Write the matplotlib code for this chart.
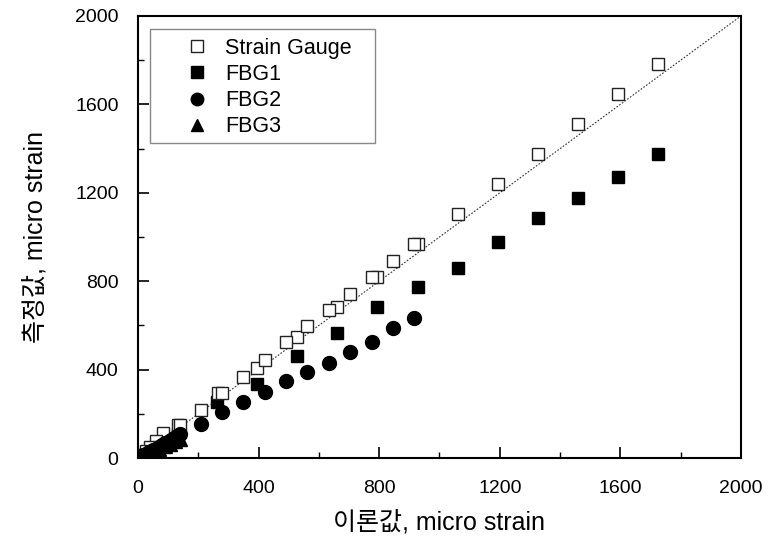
import numpy as np
import matplotlib
matplotlib.use("Agg")
import matplotlib.pyplot as plt
from matplotlib.patches import Rectangle
from matplotlib.ticker import MultipleLocator

plt.rcParams['font.family'] = ['Liberation Sans', 'Noto Sans CJK KR', 'DejaVu Sans']

# Strain gauge (two load series)
sg_x = [1725, 1592, 1459, 1327, 1194, 1061, 929, 793, 660, 527, 395, 265, 133,
        915, 846, 776, 703, 633, 560, 491, 421, 349, 279, 208, 139, 83, 60, 40, 25, 12, 5]
sg_y = [1782, 1646, 1510, 1374, 1240, 1102, 970, 821, 685, 549, 408, 295, 150,
        970, 893, 818, 744, 671, 599, 526, 444, 367, 295, 218, 150, 113, 75, 50, 32, 15, 6]

fbg1_x = [1725, 1592, 1459, 1327, 1194, 1061, 929, 793, 660, 527, 395, 262, 133, 100, 70, 45, 25, 10]
fbg1_y = [1374, 1270, 1175, 1084, 978, 862, 776, 682, 567, 463, 336, 255, 110, 80, 58, 38, 20, 8]

fbg2_x = [915, 846, 776, 703, 633, 560, 491, 421, 349, 279, 208, 139,
          128, 118, 108, 98, 88, 78, 68, 58, 48, 38, 28, 18, 8]
fbg2_y = [635, 590, 526, 481, 431, 390, 349, 299, 254, 209, 156, 109,
          98, 90, 82, 74, 66, 58, 50, 43, 35, 28, 20, 13, 6]

fbg3_x = [140, 122, 105, 88, 70, 52, 35, 18, 5]
fbg3_y = [88, 76, 65, 54, 43, 32, 21, 11, 3]

fig = plt.figure(figsize=(7.69, 5.44), dpi=100)
ax = fig.add_axes([0.1795, 0.158, 0.784, 0.8126])

ax.plot([0, 2000], [0, 2000], color='#333333', linestyle=(0, (1.5, 1.5)), linewidth=0.8, zorder=1)

ax.plot(sg_x, sg_y, 's', markersize=9, markerfacecolor='white', markeredgecolor='#222222',
        markeredgewidth=1.0, linestyle='none', label='Strain Gauge', zorder=3)
ax.plot(fbg1_x, fbg1_y, 's', markersize=9, color='black', linestyle='none', label='FBG1', zorder=2)
ax.plot(fbg2_x, fbg2_y, 'o', markersize=10, color='black', linestyle='none', label='FBG2', zorder=4)
ax.plot(fbg3_x, fbg3_y, '^', markersize=10, color='black', linestyle='none', label='FBG3', zorder=5)

ax.set_xlim(0, 2000)
ax.set_ylim(0, 2000)
ax.xaxis.set_major_locator(MultipleLocator(400))
ax.yaxis.set_major_locator(MultipleLocator(400))
ax.xaxis.set_minor_locator(MultipleLocator(200))
ax.yaxis.set_minor_locator(MultipleLocator(200))
ax.tick_params(which='both', direction='in', top=False, right=False, labelsize=14)
ax.tick_params(axis='x', pad=16)
ax.tick_params(axis='y', pad=14)
ax.tick_params(which='major', length=8, width=1.2)
ax.tick_params(which='minor', length=4, width=1.0)
for s in ax.spines.values():
    s.set_linewidth(1.5)

ax.set_xlabel('이론값, micro strain', fontsize=18, labelpad=9)
ax.set_ylabel('측정값, micro strain', fontsize=18, labelpad=20)

leg = ax.legend(loc='upper left', bbox_to_anchor=(0.02, 0.97), fontsize=15.5, frameon=False,
                borderpad=0.4, handlelength=3.6, handletextpad=-0.5, labelspacing=0.24,
                borderaxespad=0, markerscale=0.9)
# legend box (wider on the right than the legend's own frame)
ax.add_patch(Rectangle((0.0199, 0.7127), 0.3731, 0.2579, transform=ax.transAxes,
                       facecolor='white', edgecolor='#888888', linewidth=1.0, zorder=6))
leg.set_zorder(7)

fig.savefig('out.png', dpi=100)
